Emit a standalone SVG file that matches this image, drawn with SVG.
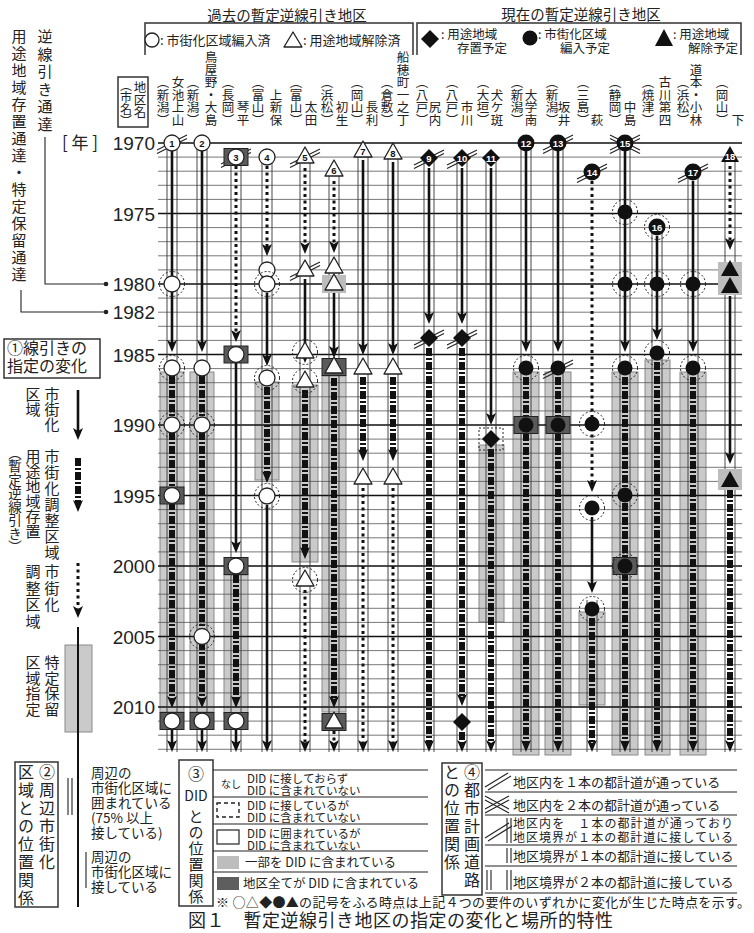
<svg xmlns="http://www.w3.org/2000/svg" width="754" height="933" viewBox="0 0 754 933">
<style>
.t{font-family:"Noto Sans CJK JP","Noto Sans",sans-serif;fill:#222}
.vt{writing-mode:vertical-rl}
.yr{font-family:"Liberation Sans",Arial,sans-serif;font-size:19px;fill:#222;text-anchor:end}
.n{font-family:"Liberation Sans",Arial,sans-serif;font-size:9.5px;font-weight:bold;text-anchor:middle;fill:#111}
.nw{fill:#fff}
.gl{stroke:#555;stroke-width:0.8;fill:none}
.gk{stroke:#111;stroke-width:1.6;fill:none}
.fl{stroke:#333;stroke-width:0.9;fill:none}
.s{stroke:#111;stroke-width:2.6;fill:none;marker-end:url(#a)}
.d{stroke:#111;stroke-width:3;stroke-dasharray:3 3.5;fill:none;marker-end:url(#a)}
.k{stroke:#111;stroke-width:6;stroke-dasharray:8 2 2 2;fill:none;marker-end:url(#a)}
.bd{fill:#cacaca;stroke:#8a8a8a;stroke-width:1}
.oc{fill:#fff;stroke:#222;stroke-width:1.3}
.fc{fill:#111}
.tr{fill:#fff;stroke:#222;stroke-width:1.3;stroke-linejoin:round}
.halo{fill:none;stroke:#222;stroke-width:1;stroke-dasharray:2 2}
.dk{fill:#5a5a5a;stroke:#222;stroke-width:1}
.lr{fill:#bdbdbd}
.ln{stroke:#222;stroke-width:1.1;fill:none}
.bx{fill:none;stroke:#333;stroke-width:1.5}
</style>
<defs>
<marker id="a" viewBox="0 0 12 10" refX="4" refY="5" markerWidth="12" markerHeight="10" markerUnits="userSpaceOnUse" orient="auto"><path d="M0,0L12,5L0,10L3,5Z" fill="#111"/></marker>
<circle id="oc" r="8" class="oc"/>
<circle id="fc" r="7.5" class="fc"/>
<circle id="fcn" r="8.5" class="fc"/>
<circle id="hl" r="12.5" class="halo"/>
<path id="tri" class="tr" d="M0,-10L9,6H-9Z"/>
<path id="btri" class="fc" d="M0,-10L9,6H-9Z"/>
<path id="dia" class="fc" d="M0,-9L9,0L0,9L-9,0Z"/>
<rect id="dr" class="dk" x="-12" y="-8.5" width="24" height="17"/>
<rect id="lrr" class="lr" x="-12" y="-9" width="24" height="18"/>
<path id="rm" class="ln" d="M-15,7L15,-8M-15,10.5L15,-4.5"/>
<path id="xm" class="ln" d="M-15,-8L15,7M-15,-4.5L15,10.5M-15,7L15,-8M-15,10.5L15,-4.5"/>
</defs>
<rect width="754" height="933" fill="#fff"/>

<g id="header">
<text class="t" x="287" y="21" font-size="14.5" text-anchor="middle">過去の暫定逆線引き地区</text>
<text class="t" x="581" y="20" font-size="14.5" text-anchor="middle">現在の暫定逆線引き地区</text>
<path class="bx" d="M145 55V23H413V55M417 55V23H741V55"/>
<circle cx="152" cy="40" r="7" class="oc"/>
<text class="t" x="160" y="45" font-size="13">: 市街化区域編入済</text>
<path class="tr" d="M293,32L302,47H284Z"/>
<text class="t" x="303" y="45" font-size="13">: 用途地域解除済</text>
<path class="fc" d="M430,30L439,39L430,48L421,39Z"/>
<text class="t" x="441" y="39" font-size="12.5">: 用途地域</text>
<text class="t" x="457" y="53" font-size="12.5">存置予定</text>
<circle cx="530" cy="38" r="7.5" class="fc"/>
<text class="t" x="538" y="39" font-size="12.5">: 市街化区域</text>
<text class="t" x="560" y="53" font-size="12.5">編入予定</text>
<path class="fc" d="M664,29L673,46H655Z"/>
<text class="t" x="673" y="39" font-size="12.5">: 用途地域</text>
<text class="t" x="688" y="53" font-size="12.5">解除予定</text>
<rect class="bx" x="118" y="77" width="30" height="50"/>
<text class="t vt" x="126" y="79" font-size="12">（市名）</text>
<text class="t vt" x="140" y="81" font-size="12.5">地区名</text>
</g>

<g id="names" class="t" font-size="12.5" text-anchor="end">
<text class="vt" x="163" y="126">（新潟）</text><text class="vt" x="178" y="126">女池上山</text>
<text class="vt" x="193" y="126">（新潟）</text><text class="vt" x="211" y="126">鳥屋野・大島</text>
<text class="vt" x="228" y="126">（長岡）</text><text class="vt" x="243" y="126">琴平</text>
<text class="vt" x="258" y="126">（富山）</text><text class="vt" x="276" y="126">上新保</text>
<text class="vt" x="296" y="126">（富山）</text><text class="vt" x="311" y="126">太田</text>
<text class="vt" x="327" y="126">（浜松）</text><text class="vt" x="342" y="126">初生</text>
<text class="vt" x="357" y="126">（岡山）</text><text class="vt" x="372" y="126">長利</text>
<text class="vt" x="387" y="126">（倉敷）</text><text class="vt" x="403" y="126">船穂町一之丁</text>
<text class="vt" x="422" y="126">（八戸）</text><text class="vt" x="435" y="126">尻内</text>
<text class="vt" x="452" y="126">（八戸）</text><text class="vt" x="467" y="126">市川</text>
<text class="vt" x="483" y="126">（大垣）</text><text class="vt" x="497" y="126">犬ケ斑</text>
<text class="vt" x="517" y="126">（新潟）</text><text class="vt" x="531" y="126">大学南</text>
<text class="vt" x="552" y="126">（新潟）</text><text class="vt" x="564" y="126">坂井</text>
<text class="vt" x="583" y="126">（三島）</text><text class="vt" x="597" y="126">萩</text>
<text class="vt" x="615" y="126">（静岡）</text><text class="vt" x="630" y="126">中島</text>
<text class="vt" x="648" y="126">（焼津）</text><text class="vt" x="665" y="126">古川第四</text>
<text class="vt" x="683" y="126">（浜松）</text><text class="vt" x="696" y="126">道本・小林</text>
<text class="vt" x="722" y="126">（岡山）</text><text class="vt" x="738" y="126">下</text>
</g>

<g id="left">
<text class="t vt" x="19" y="29" font-size="15" letter-spacing="2">用途地域存置通達・特定保留通達</text>
<text class="t vt" x="45" y="29" font-size="15" letter-spacing="2.5">逆線引き通達</text>
<path class="ln" d="M45 137V284H104M21 290V312H104" stroke-width="1.3"/>
<circle cx="106" cy="284" r="2.3" fill="#222"/>
<circle cx="106" cy="312" r="2.3" fill="#222"/>
<text class="t" x="62" y="149" font-size="17">[ 年 ]</text>
<text class="yr" x="155" y="150">1970</text>
<text class="yr" x="155" y="220.5">1975</text>
<text class="yr" x="155" y="291">1980</text>
<text class="yr" x="155" y="319">1982</text>
<text class="yr" x="155" y="361.5">1985</text>
<text class="yr" x="155" y="432">1990</text>
<text class="yr" x="155" y="502.5">1995</text>
<text class="yr" x="155" y="573">2000</text>
<text class="yr" x="155" y="643.5">2005</text>
<text class="yr" x="155" y="714">2010</text>
<rect class="bx" x="4" y="339" width="96" height="39"/>
<text class="t" x="7" y="354" font-size="16">①線引きの</text>
<text class="t" x="7" y="372" font-size="16">指定の変化</text>
<text class="t vt" x="52" y="387" font-size="15">市街化</text>
<text class="t vt" x="33" y="387" font-size="15">区域</text>
<path class="s" d="M78 390V432"/>
<text class="t vt" x="52" y="449" font-size="15" letter-spacing="1">市街化調整区域</text>
<text class="t vt" x="33" y="449" font-size="15">用途地域存置</text>
<text class="t vt" x="15" y="446" font-size="13.5">（暫定逆線引き）</text>
<path class="k" d="M78 458V504"/>
<text class="t vt" x="52" y="564" font-size="15" letter-spacing="1.5">市街化</text>
<text class="t vt" x="33" y="564" font-size="15" letter-spacing="1.5">調整区域</text>
<path class="d" d="M78 563V610" stroke-width="3.5"/>
<rect class="bd" x="65" y="645" width="27" height="87"/>
<path d="M78 627V907" stroke="#111" stroke-width="2"/>
<text class="t vt" x="52" y="655" font-size="15" letter-spacing="0.5">特定保留</text>
<text class="t vt" x="33" y="655" font-size="15" letter-spacing="0.5">区域指定</text>
</g>

<g id="bands">
<rect class="bd" x="160" y="372" width="24" height="340"/>
<rect class="bd" x="190" y="372" width="24" height="340"/>
<rect class="bd" x="224" y="575" width="24" height="140"/>
<rect class="bd" x="255" y="382" width="24" height="98"/>
<rect class="bd" x="292" y="385" width="26" height="177"/>
<rect class="bd" x="322" y="376" width="24" height="336"/>
<rect class="bd" x="479" y="445" width="25" height="177"/>
<rect class="bd" x="513" y="372" width="26" height="383"/>
<rect class="bd" x="545" y="372" width="26" height="383"/>
<rect class="bd" x="579" y="612" width="26" height="93"/>
<rect class="bd" x="612" y="372" width="26" height="383"/>
<rect class="bd" x="645" y="360" width="25" height="395"/>
<rect class="bd" x="680" y="372" width="26" height="383"/>
</g>

<g id="grid">
<path class="gl" d="M158 157.1H742M158 171.2H742M158 185.3H742M158 199.4H742M158 227.6H742M158 241.7H742M158 255.8H742M158 269.9H742M158 298.1H742M158 312.2H742M158 326.3H742M158 340.4H742M158 368.6H742M158 382.7H742M158 396.8H742M158 410.9H742M158 439.1H742M158 453.2H742M158 467.3H742M158 481.4H742M158 509.6H742M158 523.7H742M158 537.8H742M158 551.9H742M158 580.1H742M158 594.2H742M158 608.3H742M158 622.4H742M158 650.6H742M158 664.7H742M158 678.8H742M158 692.9H742M158 721.1H742M158 735.2H742M158 749.3H742"/>
<path class="gk" d="M158 143H742M158 213.5H742M158 284H742M158 354.5H742M158 425H742M158 495.5H742M158 566H742M158 636.5H742M158 707H742"/>
</g>

<g id="connectors">
<path class="fl" d="M167 143V752M177 143V752M197 143V752M207 143V752M231 157V752M241 157V752M262 157V752M272 157V752M300 157V752M310 157V752M329 170V752M339 170V752M358 150V752M368 150V752M388 152V752M398 152V752M424 158V752M434 158V752M457 158V752M467 158V752M486 158V752M496 158V752M521 143V752M531 143V752M553 143V752M563 143V752M587 600V752M597 600V752M620 143V752M630 143V752M652 227V752M662 227V752M688 172V752M698 172V752M725 156V752M735 156V752"/>
<path class="s" d="M172 151V344"/><path class="k" d="M172 376V700"/><path class="s" d="M172 729V744"/>
<path class="s" d="M202 151V344"/><path class="k" d="M202 376V700"/><path class="s" d="M202 729V744"/>
<path class="d" d="M236 166V334"/><path class="s" d="M236 363V545"/><path class="k" d="M236 575V700"/><path class="s" d="M236 729V744"/>
<path class="d" d="M267 166V248"/><path class="s" d="M267 293V358"/><path class="k" d="M267 387V475"/><path class="s" d="M267 505V744"/>
<path class="d" d="M305 168V246"/><path class="s" d="M305 279V355"/><path class="k" d="M305 390V551"/><path class="d" d="M305 590V744"/>
<path class="d" d="M334 181V245"/><path class="s" d="M334 293V350"/><path class="k" d="M334 378V700"/><path class="d" d="M334 731V744"/>
<path class="s" d="M363 160V347"/><path class="k" d="M363 377V453"/><path class="d" d="M363 488V744"/>
<path class="s" d="M393 162V347"/><path class="k" d="M393 377V453"/><path class="d" d="M393 488V744"/>
<path class="s" d="M429 168V316"/><path class="k" d="M429 348V744"/>
<path class="s" d="M462 168V316"/><path class="k" d="M462 348V698"/><path class="k" d="M462 732V744"/>
<path class="s" d="M491 168V417"/><path class="k" d="M491 449V744"/>
<path class="s" d="M526 151V344"/><path class="k" d="M526 377V744"/>
<path class="s" d="M558 151V344"/><path class="k" d="M558 377V744"/>
<path class="d" d="M592 181V484"/><path class="s" d="M592 517V585"/><path class="k" d="M592 618V744"/>
<path class="s" d="M625 151V344"/><path class="k" d="M625 377V744"/>
<path class="s" d="M657 236V332"/><path class="k" d="M657 362V744"/>
<path class="s" d="M693 181V344"/><path class="k" d="M693 377V744"/>
<path class="d" d="M730 166V242"/><path class="s" d="M730 296V456"/><path class="k" d="M730 490V744"/>
</g>

<g id="n01"><use href="#rm" x="172" y="143"/><use href="#oc" x="172" y="143"/><text class="n" x="172" y="146.5">1</text>
<use href="#hl" x="172" y="284"/><use href="#oc" x="172" y="284"/><use href="#hl" x="172" y="368"/><use href="#oc" x="172" y="368"/>
<use href="#hl" x="172" y="425"/><use href="#oc" x="172" y="425"/><use href="#dr" x="172" y="495.5"/><use href="#oc" x="172" y="495.5"/>
<use href="#dr" x="172" y="721"/><use href="#oc" x="172" y="721"/></g>
<g id="n02"><use href="#oc" x="202" y="143"/><text class="n" x="202" y="146.5">2</text><use href="#oc" x="202" y="368"/>
<use href="#hl" x="202" y="425"/><use href="#oc" x="202" y="425"/><use href="#hl" x="202" y="636.5"/><use href="#oc" x="202" y="636.5"/>
<use href="#dr" x="202" y="721"/><use href="#oc" x="202" y="721"/></g>
<g id="n03"><use href="#rm" x="236" y="157"/><use href="#dr" x="236" y="157"/><use href="#oc" x="236" y="157"/><text class="n" x="236" y="160.5">3</text>
<use href="#dr" x="236" y="354.5"/><use href="#oc" x="236" y="354.5"/><use href="#dr" x="236" y="566"/><use href="#oc" x="236" y="566"/>
<use href="#dr" x="236" y="721"/><use href="#oc" x="236" y="721"/></g>
<g id="n04"><use href="#oc" x="267" y="157"/><text class="n" x="267" y="160.5">4</text><use href="#oc" x="267" y="270"/>
<use href="#hl" x="267" y="284"/><use href="#oc" x="267" y="284"/><use href="#hl" x="267" y="378"/><use href="#oc" x="267" y="378"/>
<use href="#hl" x="267" y="496"/><use href="#oc" x="267" y="496"/></g>
<g id="n05"><use href="#rm" x="305" y="157"/><use href="#tri" x="305" y="157"/><text class="n" x="305" y="161">5</text>
<use href="#rm" x="305" y="270"/><use href="#tri" x="305" y="270"/>
<use href="#hl" x="305" y="352"/><use href="#tri" x="305" y="352"/><use href="#hl" x="305" y="381"/><use href="#tri" x="305" y="381"/>
<use href="#hl" x="305" y="580"/><use href="#tri" x="305" y="580"/></g>
<g id="n06"><use href="#tri" x="334" y="170"/><text class="n" x="334" y="174">6</text><use href="#tri" x="334" y="267"/>
<use href="#lrr" x="334" y="284"/><use href="#tri" x="334" y="284"/><use href="#dr" x="334" y="367"/><use href="#tri" x="334" y="367"/>
<use href="#dr" x="334" y="722"/><use href="#tri" x="334" y="722"/></g>
<g id="n07"><use href="#tri" x="363" y="151"/><text class="n" x="363" y="155">7</text><use href="#tri" x="363" y="368"/><use href="#tri" x="363" y="478"/></g>
<g id="n08"><use href="#tri" x="393" y="153"/><text class="n" x="393" y="157">8</text><use href="#tri" x="393" y="368"/><use href="#tri" x="393" y="478"/></g>
<g id="n09"><use href="#rm" x="429" y="158"/><use href="#dia" x="429" y="158"/><text class="n nw" x="429" y="161.5">9</text>
<use href="#rm" x="429" y="338"/><use href="#dia" x="429" y="338"/></g>
<g id="n10"><use href="#rm" x="462" y="158"/><use href="#dia" x="462" y="158"/><text class="n nw" x="462" y="161.5">10</text>
<use href="#rm" x="462" y="338"/><use href="#dia" x="462" y="338"/><use href="#dia" x="462" y="722"/></g>
<g id="n11"><use href="#dia" x="491" y="158"/><text class="n nw" x="491" y="161.5">11</text>
<rect class="halo" x="479" y="428" width="24" height="22"/><use href="#dia" x="491" y="439"/></g>
<g id="n12"><use href="#fcn" x="526" y="143"/><text class="n nw" x="526" y="146.5">12</text>
<use href="#hl" x="526" y="368"/><use href="#fc" x="526" y="368"/><use href="#dr" x="526" y="425"/><use href="#fc" x="526" y="425"/></g>
<g id="n13"><use href="#rm" x="558" y="143"/><use href="#fcn" x="558" y="143"/><text class="n nw" x="558" y="146.5">13</text>
<use href="#rm" x="558" y="368"/><use href="#fc" x="558" y="368"/><use href="#dr" x="558" y="425"/><use href="#fc" x="558" y="425"/></g>
<g id="n14"><use href="#rm" x="592" y="172"/><use href="#fcn" x="592" y="172"/><text class="n nw" x="592" y="175.5">14</text>
<use href="#hl" x="592" y="424"/><use href="#fc" x="592" y="424"/><use href="#hl" x="592" y="508"/><use href="#fc" x="592" y="508"/>
<use href="#hl" x="592" y="609"/><use href="#fc" x="592" y="609"/></g>
<g id="n15"><use href="#xm" x="625" y="143"/><use href="#fcn" x="625" y="143"/><text class="n nw" x="625" y="146.5">15</text>
<use href="#hl" x="625" y="212"/><use href="#fc" x="625" y="212"/><use href="#hl" x="625" y="284"/><use href="#fc" x="625" y="284"/>
<use href="#hl" x="625" y="368"/><use href="#fc" x="625" y="368"/><use href="#hl" x="625" y="495"/><use href="#fc" x="625" y="495"/>
<use href="#dr" x="625" y="566"/><use href="#hl" x="625" y="566"/><use href="#fc" x="625" y="566"/></g>
<g id="n16"><use href="#hl" x="657" y="227"/><use href="#fcn" x="657" y="227"/><text class="n nw" x="657" y="230.5">16</text>
<use href="#hl" x="657" y="284"/><use href="#fc" x="657" y="284"/><use href="#hl" x="657" y="353"/><use href="#fc" x="657" y="353"/></g>
<g id="n17"><use href="#rm" x="693" y="172"/><use href="#fcn" x="693" y="172"/><text class="n nw" x="693" y="175.5">17</text>
<use href="#hl" x="693" y="284"/><use href="#fc" x="693" y="284"/><use href="#hl" x="693" y="368"/><use href="#fc" x="693" y="368"/></g>
<g id="n18"><use href="#btri" x="730" y="156"/><text class="n nw" x="730" y="160">18</text>
<rect class="lr" x="718" y="262" width="24" height="33"/><use href="#btri" x="730" y="270"/><use href="#btri" x="730" y="287"/>
<rect class="lr" x="718" y="469" width="24" height="21"/><use href="#btri" x="730" y="481"/></g>

<g id="legend2">
<rect class="bx" x="15" y="762" width="43" height="145"/>
<text class="t vt" x="47" y="764" font-size="16" letter-spacing="2">②周辺市街化</text>
<text class="t vt" x="26" y="764" font-size="16" letter-spacing="2">区域との位置関係</text>
<path class="ln" d="M68 778V815M72 778V815M86 852V888"/>
<g class="t" font-size="13.5">
<text x="91" y="778">周辺の</text><text x="91" y="793">市街化区域に</text><text x="91" y="808">囲まれている</text><text x="91" y="823">(75% 以上</text><text x="91" y="838">接している)</text>
<text x="91" y="862">周辺の</text><text x="91" y="877">市街化区域に</text><text x="91" y="892">接している</text>
</g>
</g>

<g id="legend3">
<rect class="bx" x="179" y="760" width="34" height="146"/>
<text class="t" x="196" y="780" font-size="16" text-anchor="middle">③</text>
<text class="t" x="196" y="801" font-size="14" text-anchor="middle">DID</text>
<text class="t vt" x="196" y="809" font-size="15" letter-spacing="1">との位置関係</text>
<path class="ln" d="M213 770H428M213 797H428M213 824H428M213 851H428M213 872H428"/>
<text class="t" x="221" y="788" font-size="10">なし</text>
<rect x="217" y="803" width="22" height="14" fill="#fff" stroke="#222" stroke-width="1.4" stroke-dasharray="4 3"/>
<rect x="217" y="830" width="22" height="14" fill="#fff" stroke="#222" stroke-width="1.2"/>
<rect x="217" y="856" width="22" height="13" fill="#bdbdbd"/>
<rect x="217" y="877" width="22" height="13" fill="#5e5e5e"/>
<g class="t" font-size="11.5">
<text x="247" y="783">DID に接しておらず</text><text x="247" y="795">DID に含まれていない</text>
<text x="247" y="810">DID に接しているが</text><text x="247" y="822">DID に含まれていない</text>
<text x="247" y="838">DID に囲まれているが</text><text x="247" y="850">DID に含まれていない</text>
</g>
<g class="t" font-size="12.5">
<text x="245" y="867">一部を DID に含まれている</text>
<text x="243" y="888">地区全てが DID に含まれている</text>
</g>
</g>

<g id="legend4">
<rect class="bx" x="442" y="763" width="40" height="132"/>
<text class="t vt" x="472" y="764" font-size="16" letter-spacing="2">④都市計画道路</text>
<text class="t vt" x="452" y="764" font-size="16" letter-spacing="2">との位置関係</text>
<path class="ln" d="M485 770H737M485 792H737M485 815H737M485 845H737M485 866H737M485 893H737"/>
<path class="ln" d="M485 787L508 773M488 790L511 776"/>
<path class="ln" d="M485 796L509 809M485 800L509 813M485 809L509 796M485 813L509 800"/>
<path class="ln" d="M485 838L509 823M488 841L512 826M507 818V843M511 818V843"/>
<path class="ln" d="M507 848V863M511 848V863"/>
<path class="ln" d="M487 870V890M491 870V890M507 870V890M511 870V890"/>
<g class="t" font-size="13">
<text x="513" y="787">地区内を１本の都計道が通っている</text>
<text x="513" y="810">地区内を２本の都計道が通っている</text>
<text x="513" y="861">地区境界が１本の都計道に接している</text>
<text x="513" y="887">地区境界が２本の都計道に接している</text>
</g>
<g class="t" font-size="12">
<text x="513" y="827.5" textLength="220">地区内を　１本の都計道が通っており</text>
<text x="513" y="841.5" textLength="220">地区境界が１本の都計道に接している</text>
</g>
</g>

<text class="t" x="216" y="907" font-size="13" textLength="534">※ ○△◆●▲の記号をふる時点は上記４つの要件のいずれかに変化が生じた時点を示す。</text>
<text class="t" x="188" y="927" font-size="18" textLength="425">図１　暫定逆線引き地区の指定の変化と場所的特性</text>
</svg>
